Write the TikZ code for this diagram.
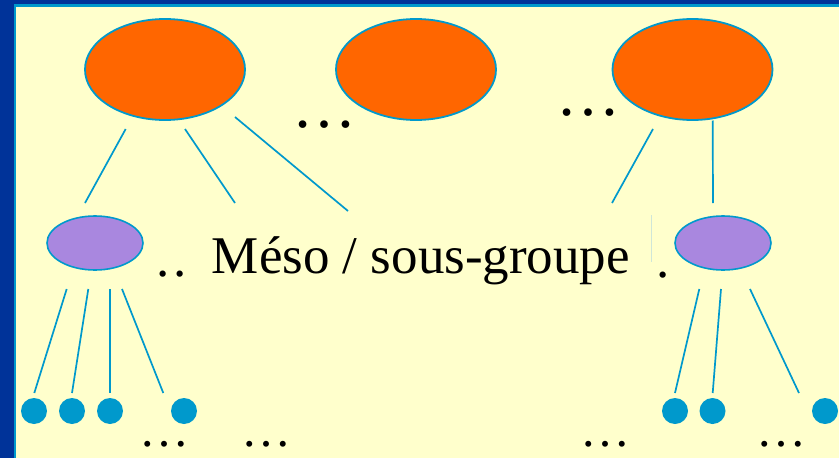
\documentclass[tikz,border=0pt]{standalone}
\usepackage{fontspec}
\setmainfont{Liberation Serif}
\usetikzlibrary{shapes.geometric}
\definecolor{frameblue}{HTML}{003399}
\definecolor{lineblue}{HTML}{0099CC}
\definecolor{bgyellow}{HTML}{FFFFCC}
\definecolor{orangefill}{HTML}{FF6600}
\definecolor{purplefill}{HTML}{A987DF}
\definecolor{faint}{HTML}{CFE6D8}
\tikzset{
  topell/.style={ellipse, draw=lineblue, line width=1.8pt, fill=orangefill, minimum width=160pt, minimum height=101pt, inner sep=0pt},
  mesoell/.style={ellipse, draw=lineblue, line width=1.6pt, fill=purplefill, minimum width=96pt, minimum height=54pt, inner sep=0pt},
  member/.style={circle, fill=lineblue, minimum size=26pt, inner sep=0pt},
  link/.style={draw=lineblue, line width=1.7pt},
  bigtext/.style={inner sep=0pt, anchor=base, font=\fontsize{53}{60}\selectfont},
  topdots/.style={inner sep=0pt, anchor=base, font=\fontsize{64}{70}\selectfont},
  lowdots/.style={inner sep=0pt, anchor=base, font=\fontsize{50}{56}\selectfont},
}
\begin{document}
\begin{tikzpicture}[x=1pt,y=-1pt]
\useasboundingbox (0,0) rectangle (839,458);
\fill[frameblue] (0,0) rectangle (839,458);
\fill[lineblue] (14,4.3) rectangle (839,458);
\fill[bgyellow] (16,6.5) rectangle (839,458);

% top ellipses
\node[topell] (t1) at (165,69.5) {};
\node[topell] (t2) at (416,69.5) {};
\node[topell] (t3) at (692.5,69.5) {};

% meso ellipses
\node[mesoell] (m1) at (95,243) {};
\node[mesoell] (m2) at (723,243) {};

% members
\node[member] (d1) at (34,411) {};
\node[member] (d2) at (72,411) {};
\node[member] (d3) at (110,411) {};
\node[member] (d4) at (184,411) {};
\node[member] (d5) at (675,411) {};
\node[member] (d6) at (712.5,411) {};
\node[member] (d7) at (825,411) {};

% connector end points
\coordinate (a1) at (125.7,129); \coordinate (b1) at (85,203);
\coordinate (a2) at (185,129);   \coordinate (b2) at (235,203);
\coordinate (a3) at (235,117);   \coordinate (b3) at (348,211);
\coordinate (a4) at (653,129);   \coordinate (b4) at (612,203);
\coordinate (a5) at (712.7,120.5); \coordinate (b5) at (713,203);
\coordinate (c1) at (66.7,289);  \coordinate (e1) at (34.3,393);
\coordinate (c2) at (88.3,289);  \coordinate (e2) at (72,393);
\coordinate (c3) at (110,289);   \coordinate (e3) at (110,393);
\coordinate (c4) at (122,289);   \coordinate (e4) at (163.3,393);
\coordinate (c5) at (699.3,289); \coordinate (e5) at (675,393);
\coordinate (c6) at (721,289);   \coordinate (e6) at (712.7,393);
\coordinate (c7) at (750,289);   \coordinate (e7) at (799,393);

\draw[link] (a1) -- (b1);
\draw[link] (a2) -- (b2);
\draw[link] (a3) -- (b3);
\draw[link] (a4) -- (b4);
\draw[link] (a5) -- (b5);
\draw[link] (c1) -- (e1);
\draw[link] (c2) -- (e2);
\draw[link] (c3) -- (e3);
\draw[link] (c4) -- (e4);
\draw[link] (c5) -- (e5);
\draw[link] (c6) -- (e6);
\draw[link] (c7) -- (e7);

% faint cursor line
\coordinate (f1) at (651.5,215); \coordinate (f2) at (651.5,262);
\draw[faint, line width=0.8pt] (f1) -- (f2);

% texts
\node[bigtext] (label) at (421,273.5) {Méso / sous-groupe};
\node[bigtext] (ldots) at (172,276.7) {.\kern4pt.};
\node[bigtext] (rdot) at (663,277.6) {.};

\node[topdots] (dots1) at (324.2,127.5) {…};
\node[topdots] (dots2) at (588.5,115.2) {…};

\node[lowdots] (dots3) at (164.5,446.2) {…};
\node[lowdots] (dots4) at (266,446.2) {…};
\node[lowdots] (dots5) at (605,446.2) {…};
\node[lowdots] (dots6) at (781,446.2) {…};
\end{tikzpicture}
\end{document}
